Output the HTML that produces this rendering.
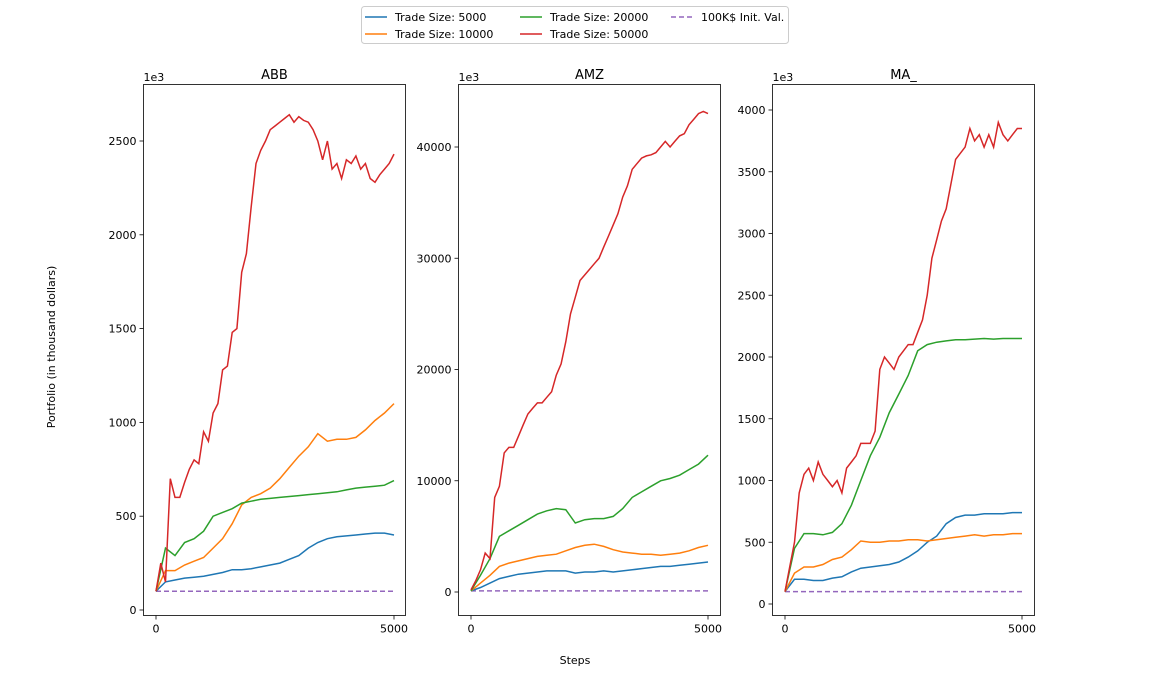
<!DOCTYPE html>
<html><head><meta charset="utf-8"><style>
body{margin:0;background:#fff;font-family:"Liberation Sans","DejaVu Sans",sans-serif}
svg text{font-family:"DejaVu Sans","Liberation Sans",sans-serif}
</style></head><body>
<svg id="chart" width="1150" height="693" xmlns="http://www.w3.org/2000/svg"></svg>
<script>
const stepsFine=[];for(let s=0;s<=5000;s+=100)stepsFine.push(s);
const stepsCoarse=[];for(let s=0;s<=5000;s+=200)stepsCoarse.push(s);
const seriesNames=["Trade Size: 5000","Trade Size: 10000","Trade Size: 20000","Trade Size: 50000","100K$ Init. Val."];
const colors=["#1f77b4","#ff7f0e","#2ca02c","#d62728","#9467bd"];
const abbRed=[100,250,150,700,600,600,680,750,800,780,950,900,1050,1100,1280,1300,1480,1500,1800,1900,2150,2380,2450,2500,2560,2580,2600,2620,2640,2600,2630,2610,2600,2560,2500,2400,2500,2350,2380,2300,2400,2380,2420,2350,2380,2300,2280,2320,2350,2380,2430];
const abbOrange=[100,210,210,240,260,280,330,380,460,560,600,620,650,700,760,820,870,940,900,910,910,920,960,1010,1050,1100];
const abbGreen=[100,330,290,360,380,420,500,520,540,570,580,590,595,600,605,610,615,620,625,630,640,650,655,660,665,690];
const abbBlue=[100,150,160,170,175,180,190,200,215,215,220,230,240,250,270,290,330,360,380,390,395,400,405,410,410,400];
const amzRed=[200,1000,2000,3500,3000,8500,9500,12500,13000,13000,14000,15000,16000,16500,17000,17000,17500,18000,19500,20500,22500,25000,26500,28000,28500,29000,29500,30000,31000,32000,33000,34000,35500,36500,38000,38500,39000,39200,39300,39500,40000,40500,40000,40500,41000,41200,42000,42500,43000,43200,43000];
const amzGreen=[100,1500,3000,5000,5500,6000,6500,7000,7300,7500,7400,6200,6500,6600,6600,6800,7500,8500,9000,9500,10000,10200,10500,11000,11500,12300];
const amzOrange=[100,800,1500,2300,2600,2800,3000,3200,3300,3400,3700,4000,4200,4300,4100,3800,3600,3500,3400,3400,3300,3400,3500,3700,4000,4200];
const amzBlue=[100,400,800,1200,1400,1600,1700,1800,1900,1900,1900,1700,1800,1800,1900,1800,1900,2000,2100,2200,2300,2300,2400,2500,2600,2700];
const maRed=[100,300,500,900,1050,1100,1000,1150,1050,1000,950,1000,900,1100,1150,1200,1300,1300,1300,1400,1900,2000,1950,1900,2000,2050,2100,2100,2200,2300,2500,2800,2950,3100,3200,3400,3600,3650,3700,3850,3750,3800,3700,3800,3700,3900,3800,3750,3800,3850,3850];
const maGreen=[100,450,570,570,560,580,650,800,1000,1200,1350,1550,1700,1850,2050,2100,2120,2130,2140,2140,2145,2150,2145,2150,2150,2150];
const maOrange=[100,250,300,300,320,360,380,440,510,500,500,510,510,520,520,510,520,530,540,550,560,550,560,560,570,570];
const maBlue=[100,200,200,190,190,210,220,260,290,300,310,320,340,380,430,500,550,650,700,720,720,730,730,730,740,740];
const initVal=100;
const abbTicks=[0,500,1000,1500,2000,2500];
const amzTicks=[0,10000,20000,30000,40000];
const maTicks=[0,500,1000,1500,2000,2500,3000,3500,4000];
const xTicks=[0,5000];

const NS="http://www.w3.org/2000/svg";
const svg=document.getElementById("chart");
function mk(t,a,p){const e=document.createElementNS(NS,t);for(const k in a)e.setAttribute(k,a[k]);(p||svg).appendChild(e);return e;}
const panels=[
 {title:"ABB",left:143.5,right:405.5,x0:156,x1:394,y0:610,ppu:93.8/500,ticks:abbTicks,blue:abbBlue,orange:abbOrange,green:abbGreen,red:abbRed},
 {title:"AMZ",left:458.5,right:720.5,x0:471,x1:708,y0:592,ppu:111.25/10000,ticks:amzTicks,blue:amzBlue,orange:amzOrange,green:amzGreen,red:amzRed},
 {title:"MA_",left:772.5,right:1034.5,x0:785,x1:1022,y0:604,ppu:61.75/500,ticks:maTicks,blue:maBlue,orange:maOrange,green:maGreen,red:maRed}
];
const axTop=84.5,axBottom=615.5;
panels.forEach((p,i)=>{
 const g=mk("g",{});
 
 
 const X=s=>p.x0+(p.x1-p.x0)*s/5000;
 const t=mk("text",{x:(p.left+p.right)/2,y:79,"text-anchor":"middle","font-size":13},g);t.textContent=p.title;
 
 const m=mk("text",{x:p.left,y:81,"font-size":11},g);m.textContent="1e3";
 
 p.ticks.forEach(v=>{const yy=p.y0-v*p.ppu;
  mk("line",{x1:p.left-4,x2:p.left,y1:yy,y2:yy,stroke:"#000","stroke-width":0.8},g);
  const tl=mk("text",{x:p.left-7,y:yy+4,"text-anchor":"end","font-size":11},g);tl.textContent=String(v);
  });
 xTicks.forEach(s=>{const xx=X(s);
  mk("line",{x1:xx,x2:xx,y1:axBottom,y2:axBottom+4,stroke:"#000","stroke-width":0.8},g);
  const tl=mk("text",{x:xx,y:axBottom+17,"text-anchor":"middle","font-size":11},g);tl.textContent=s;
  });
 const line=(xs,vs,c,nm,dash)=>{const pl=mk("polyline",{points:vs.map((v,k)=>X(xs[k]).toFixed(1)+","+(p.y0-v*p.ppu).toFixed(1)).join(" "),fill:"none",stroke:c,"stroke-width":1.5,"stroke-dasharray":dash||"none"},g);
  };
 line([0,5000],[initVal,initVal],colors[4],"init-value-line","5,3");
 line(stepsCoarse,p.blue,colors[0],"series-5000");
 line(stepsCoarse,p.orange,colors[1],"series-10000");
 line(stepsCoarse,p.green,colors[2],"series-20000");
 line(stepsFine,p.red,colors[3],"series-50000");
 const r=mk("rect",{x:p.left,y:axTop,width:p.right-p.left,height:axBottom-axTop,fill:"none",stroke:"#000","stroke-width":0.8},g);
 
});
const yl=mk("text",{x:55,y:347,"text-anchor":"middle","font-size":11,transform:"rotate(-90 55 347)"});yl.textContent="Portfolio (in thousand dollars)";

const xl=mk("text",{x:575,y:664,"text-anchor":"middle","font-size":11});xl.textContent="Steps";

const lg=mk("g",{});

mk("rect",{x:361.5,y:6.5,width:427,height:37,rx:3,fill:"#fff",stroke:"#ccc"},lg);
const pos=[[365,17],[365,34],[520,17],[520,34],[671,17]];
[0,1,2,3,4].forEach(i=>{const [x,y]=pos[i];
 const e=mk("g",{},lg);
 mk("line",{x1:x,x2:x+22,y1:y,y2:y,stroke:colors[i],"stroke-width":1.5,"stroke-dasharray":i===4?"5,3":"none"},e);
 const t=mk("text",{x:x+30,y:y+4,"font-size":11},e);t.textContent=seriesNames[i];});
</script>
</body></html>
